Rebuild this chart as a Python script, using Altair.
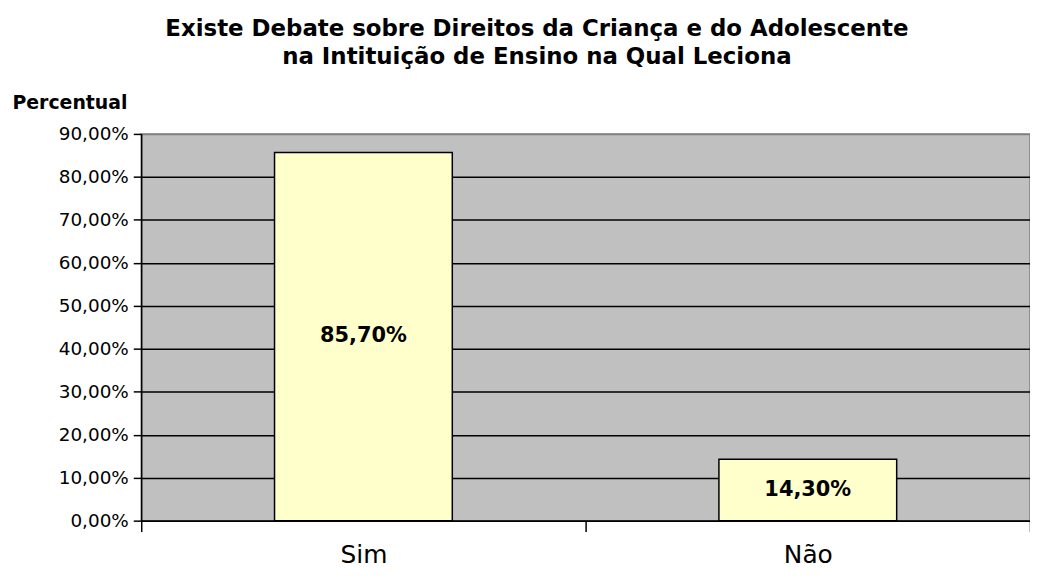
import altair as alt
import pandas as pd

categories = ["Sim", "Não"]
values = [85.7, 14.3]
labels = ["85,70%", "14,30%"]
title_lines = ["Existe Debate sobre Direitos da Criança e do Adolescente",
               "na Intituição de Ensino na Qual Leciona"]
y_ticks = [0, 10, 20, 30, 40, 50, 60, 70, 80, 90]

df = pd.DataFrame({"cat": categories, "val": values, "lab": labels})

FONT = "DejaVu Sans"

x = alt.X("cat:N", sort=categories, title=None,
          scale=alt.Scale(paddingInner=0, paddingOuter=0),
          axis=alt.Axis(labelAngle=0, labelFontSize=25, labelFont=FONT, labelColor="#000",
                        labelBaseline="alphabetic",
                        domainColor="#000", domainWidth=1.5, tickColor="#000", tickWidth=1.5,
                        tickSize=11, tickBand="extent", labelPadding=31, grid=False))

y = alt.Y("val:Q", title="Percentual",
          scale=alt.Scale(domain=[0, 90], nice=False),
          axis=alt.Axis(values=y_ticks,
                        labelExpr="replace(format(datum.value, '.2f'), '.', ',') + '%'",
                        labelFontSize=18.5, labelFont=FONT, labelColor="#000", labelPadding=5,
                        tickSize=8, tickColor="#000", tickWidth=1.5,
                        domainColor="#000", domainWidth=1.5,
                        grid=True, gridColor={"condition": {"test": "datum.value == 90", "value": "#808080"}, "value": "#000"},
                        gridWidth=1.5,
                        titleAngle=0, titleX=-130, titleY=-32, titleAlign="left", titleBaseline="middle",
                        titleFontSize=19, titleFontWeight="bold", titleFont=FONT, titleColor="#000"))

bars = alt.Chart(df).mark_bar(width=alt.RelativeBandSize(0.4), color="#FFFFCC",
                              stroke="#000", strokeWidth=1.5).encode(x=x, y=y)

text = alt.Chart(df).transform_calculate(mid="datum.val / 2").mark_text(
    fontSize=21, fontWeight="bold", font=FONT, color="#000"
).encode(x=alt.X("cat:N", sort=categories), y=alt.Y("mid:Q"), text="lab:N")

chart = alt.layer(bars, text).properties(
    width=894, height=389,
    autosize=alt.AutoSizeParams(type="none"),
    padding={"left": 134, "top": 125, "right": 0, "bottom": 49},
    title=alt.TitleParams(text=title_lines, fontSize=23, fontWeight="bold", font=FONT,
                          color="#000", lineHeight=28, anchor="middle", dx=-49, offset=24),
).configure_view(fill="#C0C0C0", stroke="#808080", strokeWidth=1.5)

chart.save("out.html", embed_options={"renderer": "svg", "actions": False})
